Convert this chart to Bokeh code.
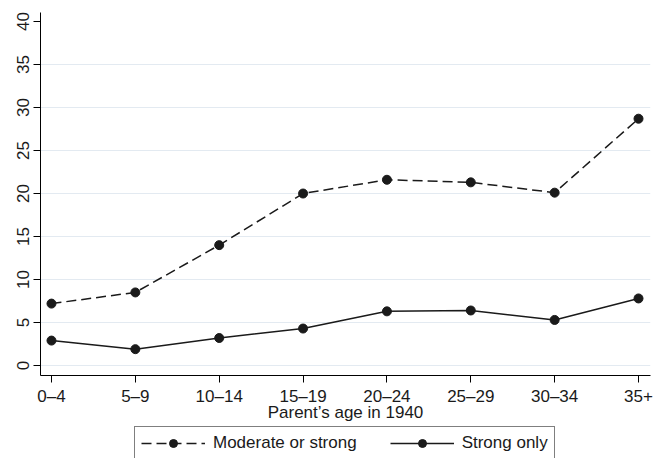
from bokeh.plotting import figure
from bokeh.layouts import column
from bokeh.models import FixedTicker, Legend, LegendItem, Range1d
from bokeh.embed import file_html
from bokeh.resources import INLINE

age_groups = ["0–4", "5–9", "10–14", "15–19", "20–24", "25–29", "30–34", "35+"]
moderate_or_strong = [7.2, 8.5, 14.0, 20.0, 21.6, 21.3, 20.1, 28.7]
strong_only = [2.9, 1.9, 3.2, 4.3, 6.3, 6.4, 5.3, 7.8]
y_ticks = [0, 5, 10, 15, 20, 25, 30, 35, 40]
grid_ticks = [0, 5, 10, 15, 20, 25, 30, 35]
x_title = "Parent’s age in 1940"
series_labels = ["Moderate or strong", "Strong only"]

xs = list(range(len(age_groups)))
FONT = "Liberation Sans"
FS = "17px"
INK = "#1a1a1a"
DASH = "10 5"

MAIN_H = 424
p = figure(width=656, height=MAIN_H, output_backend="svg", toolbar_location=None,
           x_range=Range1d(-0.131, 7.143), y_range=Range1d(-1.16, 41.05),
           min_border_left=40, min_border_right=6, min_border_top=12,
           min_border_bottom=MAIN_H - 375)
p.outline_line_color = None
p.background_fill_color = "white"
p.border_fill_color = "white"

p.line(xs, moderate_or_strong, line_color=INK, line_width=1.5, line_dash=DASH)
p.scatter(xs, moderate_or_strong, size=9, marker="circle", fill_color=INK, line_color=INK)
p.line(xs, strong_only, line_color=INK, line_width=1.5)
p.scatter(xs, strong_only, size=9, marker="circle", fill_color=INK, line_color=INK)

# axes
p.xaxis.ticker = FixedTicker(ticks=xs)
p.xaxis.major_label_overrides = {i: lab for i, lab in enumerate(age_groups)}
p.yaxis.ticker = FixedTicker(ticks=y_ticks)
p.yaxis.major_label_orientation = "vertical"
for ax in (p.xaxis[0], p.yaxis[0]):
    ax.axis_line_color = "black"
    ax.axis_line_width = 1
    ax.major_tick_line_color = "black"
    ax.major_tick_out = 7
    ax.major_tick_in = 0
    ax.minor_tick_line_color = None
    ax.major_label_text_font = FONT
    ax.major_label_text_font_size = FS
    ax.major_label_text_color = INK
p.xaxis.major_label_standoff = 4
p.yaxis.major_label_standoff = 4
p.xaxis.axis_label = x_title
p.xaxis.axis_label_text_font = FONT
p.xaxis.axis_label_text_font_size = FS
p.xaxis.axis_label_text_font_style = "normal"
p.xaxis.axis_label_text_color = INK
p.xaxis.axis_label_standoff = -6

p.xgrid.grid_line_color = None
p.ygrid.ticker = FixedTicker(ticks=grid_ticks)
p.ygrid.grid_line_color = "#e3eaf1"
p.ygrid.grid_line_width = 1.2

# legend strip below the chart (no axes; series drawn off-range so only the key shows)
LEG_H = 458 - MAIN_H
q = figure(width=656, height=LEG_H, output_backend="svg", toolbar_location=None,
           x_axis_location=None, y_axis_location=None,
           x_range=Range1d(100, 101), y_range=Range1d(100, 101),
           min_border_left=40, min_border_right=6, min_border_top=0, min_border_bottom=0)
q.grid.visible = False
q.outline_line_color = None
q.background_fill_color = "white"
q.border_fill_color = "white"
k1l = q.line(xs, moderate_or_strong, line_color=INK, line_width=1.5, line_dash=DASH)
k1s = q.scatter(xs, moderate_or_strong, size=9, marker="circle", fill_color=INK, line_color=INK)
k2l = q.line(xs, strong_only, line_color=INK, line_width=1.5)
k2s = q.scatter(xs, strong_only, size=9, marker="circle", fill_color=INK, line_color=INK)

legend = Legend(items=[LegendItem(label=series_labels[0], renderers=[k1l, k1s]),
                       LegendItem(label=series_labels[1], renderers=[k2l, k2s])],
                orientation="horizontal", location=(134 - 40, LEG_H - 4 - 32),
                border_line_color="black", border_line_width=1,
                background_fill_color="white", background_fill_alpha=1,
                label_text_font=FONT, label_text_font_size=FS, label_text_color=INK,
                glyph_width=64, glyph_height=20, label_standoff=8, spacing=33,
                padding=6, margin=0)
q.add_layout(legend, "center")

layout = column(p, q, spacing=0)
open("out.html", "w").write(file_html(layout, INLINE))
